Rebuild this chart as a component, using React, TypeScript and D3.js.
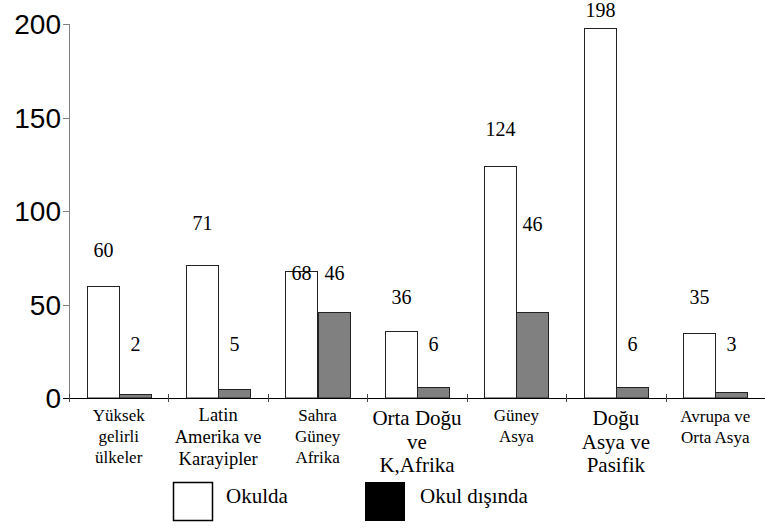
import React from "react";
import * as d3 from "d3";

const categories: string[][] = [
  ["Yüksek", "gelirli", "ülkeler"],
  ["Latin", "Amerika ve", "Karayipler"],
  ["Sahra", "Güney", "Afrika"],
  ["Orta Doğu", "ve", "K,Afrika"],
  ["Güney", "Asya"],
  ["Doğu", "Asya ve", "Pasifik"],
  ["Avrupa ve", "Orta Asya"],
];
const okulda = [60, 71, 68, 36, 124, 198, 35];
const okulDisinda = [2, 5, 46, 6, 46, 6, 3];
// label levels (in value units)
const okuldaLabelLevel = [75.4, 89.8, 63.1, 50.3, 140, 204, 50.3];
const disindaLabelLevel = [25.1, 25.1, 63.1, 25.1, 89.3, 25.1, 25.1];
const yTicks = [0, 50, 100, 150, 200];
const seriesNames = ["Okulda", "Okul dışında"];

const W = 765;
const H = 528;
const X0 = 69;
const X1 = 765;
const Y0 = 398;
const Y1 = 24;

const catFont = [17, 18.5, 17, 21, 17, 21, 17];
const catLine = [21, 22, 21, 23.5, 21, 23.5, 21.5];
const catFirst = [421, 421, 421, 425, 421, 425, 421.5];

export default function App() {
  const idx = categories.map((_, i) => String(i));
  const x = d3.scaleBand<string>().domain(idx).range([X0, X1]).paddingInner(0).paddingOuter(0);
  const xs = d3
    .scaleBand<string>()
    .domain(seriesNames)
    .range([0, x.bandwidth()])
    .paddingInner(0)
    .paddingOuter(0.55);
  const y = d3.scaleLinear().domain([0, 200]).range([Y0, Y1]);
  const bw = xs.bandwidth();

  const boundaries = idx.map((k) => x(k) as number);

  return (
    <svg width={W} height={H} style={{ position: "absolute", left: 0, top: 0 }}>
      <style>{`.sf{font-family:"Liberation Serif";} .ss{font-family:"Liberation Sans";}`}</style>
      <rect x={0} y={0} width={W} height={H} fill="#fff" />
      {/* bars */}
      {idx.map((k, i) => {
        const bx = x(k) as number;
        const xa = Math.round(bx + (xs("Okulda") as number)) + 0.5;
        const xb = Math.round(bx + (xs("Okul dışında") as number)) + 0.5;
        const ya = Math.round(y(okulda[i])) + 0.5;
        const yb = Math.round(y(okulDisinda[i])) + 0.5;
        return (
          <g key={k}>
            <rect x={xa} y={ya} width={Math.round(bw)} height={Y0 - ya} fill="#fff" stroke="#222" strokeWidth={1} />
            <rect x={xb} y={yb} width={Math.round(bw)} height={Y0 - yb} fill="#808080" stroke="#222" strokeWidth={1} />
            <text className="sf" x={xa + bw / 2} y={y(okuldaLabelLevel[i])} textAnchor="middle" fontSize={20} fill="#000">
              {String(okulda[i])}
            </text>
            <text className="sf" x={xb + bw / 2} y={y(disindaLabelLevel[i])} textAnchor="middle" fontSize={20} fill="#000">
              {String(okulDisinda[i])}
            </text>
          </g>
        );
      })}
      {/* y axis */}
      <line x1={X0 + 0.5} x2={X0 + 0.5} y1={Y1} y2={Y0} stroke="#808080" strokeWidth={1} />
      {yTicks.map((t) => (
        <g key={t}>
          <line x1={X0 - 6} x2={X0} y1={Math.round(y(t)) + 0.5} y2={Math.round(y(t)) + 0.5} stroke="#808080" />
          <text className="ss" x={61} y={y(t)} dy="0.36em" textAnchor="end" fontSize={28} fill="#000">
            {String(t)}
          </text>
        </g>
      ))}
      {/* x axis */}
      <line x1={X0 - 6} x2={X1} y1={Y0 + 0.5} y2={Y0 + 0.5} stroke="#000" strokeWidth={1.2} />
      {boundaries.map((b, i) => (
        <line
          key={i}
          x1={Math.round(b) + 0.5}
          x2={Math.round(b) + 0.5}
          y1={Y0 - 4}
          y2={Y0 + 4}
          stroke="#444"
          strokeWidth={1}
        />
      ))}
      {/* category labels */}
      {categories.map((lines, i) => {
        const cx = (x(String(i)) as number) + x.bandwidth() / 2;
        return lines.map((ln, j) => (
          <text
            key={i + "-" + j}
            className="sf"
            x={cx}
            y={catFirst[i] + j * catLine[i]}
            textAnchor="middle"
            fontSize={catFont[i]}
            fill="#000"
          >
            {ln}
          </text>
        ));
      })}
      {/* legend */}
      <rect x={173.5} y={482.5} width={39} height={38} fill="#fff" stroke="#000" strokeWidth={1.5} />
      <text className="sf" x={226} y={503} fontSize={21} fill="#000">
        {seriesNames[0]}
      </text>
      <rect x={365} y={482} width={40} height={39} fill="#000" />
      <text className="sf" x={420} y={503} fontSize={21} fill="#000">
        {seriesNames[1]}
      </text>
    </svg>
  );
}
